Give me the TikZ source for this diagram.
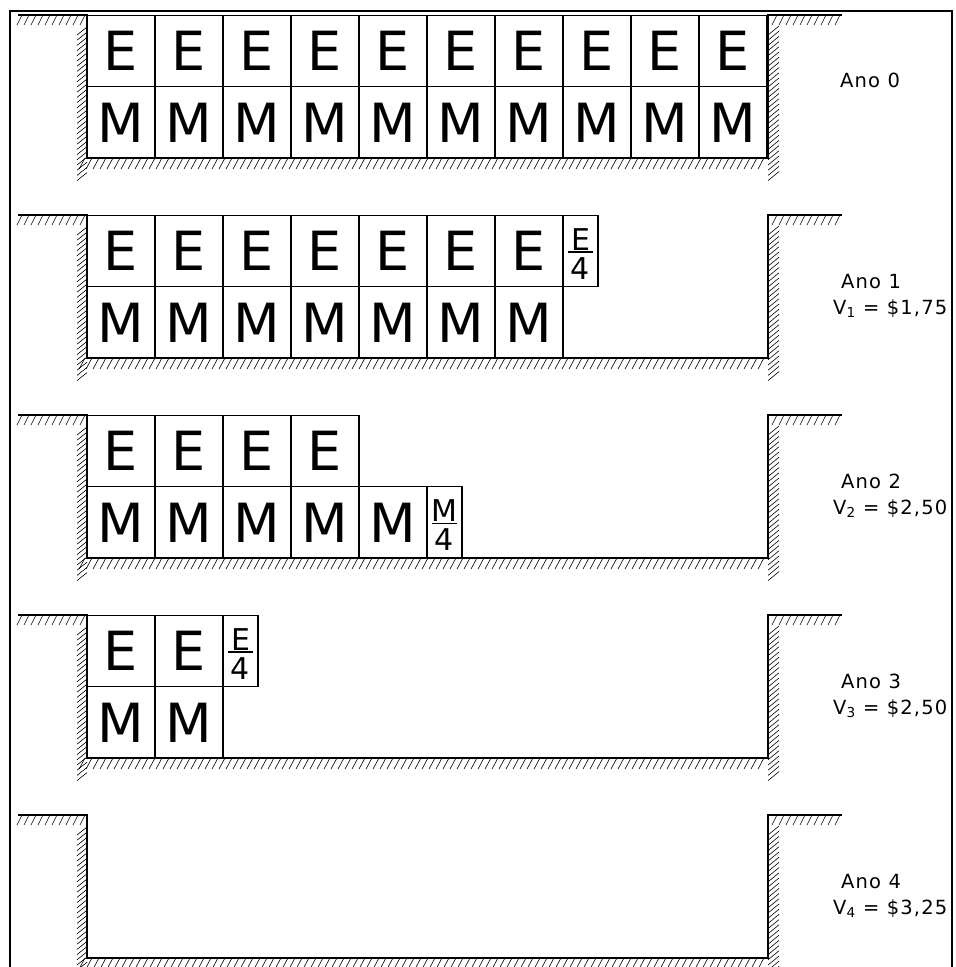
\documentclass[tikz,border=0pt]{standalone}
\usepackage{fontspec}
\setmainfont{DejaVu Sans}
\newfontfamily\labelfont[LetterSpace=6]{DejaVu Sans}

% One trench: ground line, walls, floor and the hatching of the soil around it.
% #1 = height of the ground line
\newcommand\trench[1]{%
  \draw[ground] (18,#1) -- (87,#1) -- (87,{#1+143}) -- (768,{#1+143}) -- (768,#1) -- (842,#1);
  % soil under the left ground
  \foreach \x in {22,29,...,87} \draw[hatch] (\x,#1) -- ++(-5,10);
  % soil left of the left wall
  \foreach \t in {0,...,28} \draw[hatch] (87,{#1+12+5.2*\t}) -- ++(-10,8);
  % soil under the floor
  \foreach \x in {85,92,...,768} \draw[hatch] (\x,{#1+143}) -- ++(-6,11);
  % soil right of the right wall
  \foreach \t in {0,...,28} \draw[hatch] (768,{#1+20+5.2*\t}) -- ++(11,-9);
  % soil under the right ground
  \foreach \x in {777,784,...,842} \draw[hatch] (\x,#1) -- ++(-5,10);
}

\begin{document}
\begin{tikzpicture}[x=1pt,y=-1pt,
  ground/.style={line width=1.6pt},
  hatch/.style={line width=0.6pt},
  cell/.style={draw, line width=1.2pt, minimum width=68pt, minimum height=71.5pt,
    inner sep=0pt, font=\fontsize{54}{54}\selectfont},
  halfcell/.style={draw, line width=1.2pt, minimum width=35pt, minimum height=71.5pt, inner sep=0pt},
  fracpart/.style={inner sep=0pt, font=\fontsize{30}{30}\selectfont},
  fracbar/.style={line width=1.2pt},
  yearlabel/.style={anchor=base west, inner sep=0pt, font=\labelfont\fontsize{19.5}{19.5}\selectfont},
  frame/.style={line width=2.4pt}]

\useasboundingbox (0,0) rectangle (956,967);
\clip (0,0) rectangle (956,967);

% trenches, 200 apart
\foreach \k in {0,...,4} { \trench{15+200*\k} }

% ---- year 0: ten E over ten M
\foreach \i in {1,...,10} {
  \node[cell] (a0e\i) at ({53+68*\i},51) {E};
  \node[cell] (a0m\i) at ({53+68*\i},122.5) {M};
}

% ---- year 1: seven E plus a quarter, seven M
\foreach \i in {1,...,7} {
  \node[cell] (a1e\i) at ({53+68*\i},251) {E};
  \node[cell] (a1m\i) at ({53+68*\i},322.5) {M};
}
\node[halfcell] (a1q) at (580.5,251) {};
\node[fracpart] (a1qn) at (580.5,239.5) {E};
\node[fracpart] (a1qd) at (580.5,268.5) {4};
\coordinate (a1ql) at (568,252);
\coordinate (a1qr) at (593,252);
\draw[fracbar] (a1ql) -- (a1qr);

% ---- year 2: four E, five M plus a quarter
\foreach \i in {1,...,4} {
  \node[cell] (a2e\i) at ({53+68*\i},451) {E};
}
\foreach \i in {1,...,5} {
  \node[cell] (a2m\i) at ({53+68*\i},522.5) {M};
}
\node[halfcell] (a2q) at (444.5,522.5) {};
\node[fracpart] (a2qn) at (444.5,510.5) {M};
\node[fracpart] (a2qd) at (444.5,540) {4};
\coordinate (a2ql) at (432,523.5);
\coordinate (a2qr) at (457,523.5);
\draw[fracbar] (a2ql) -- (a2qr);

% ---- year 3: two E plus a quarter, two M
\foreach \i in {1,2} {
  \node[cell] (a3e\i) at ({53+68*\i},651) {E};
  \node[cell] (a3m\i) at ({53+68*\i},722.5) {M};
}
\node[halfcell] (a3q) at (240.5,651) {};
\node[fracpart] (a3qn) at (240.5,639.5) {E};
\node[fracpart] (a3qd) at (240.5,668.5) {4};
\coordinate (a3ql) at (228,652);
\coordinate (a3qr) at (253,652);
\draw[fracbar] (a3ql) -- (a3qr);

% ---- year labels and values
\begin{scope}
  \clip (0,0) rectangle (951,967);
  \node[yearlabel] (y0) at (840,87) {Ano 0};
  \node[yearlabel] (y1) at (841,288) {Ano 1};
  \node[yearlabel] (v1) at (833,314) {V\textsubscript{1} = \$1,75};
  \node[yearlabel] (y2) at (841,488) {Ano 2};
  \node[yearlabel] (v2) at (833,514) {V\textsubscript{2} = \$2,50};
  \node[yearlabel] (y3) at (841,688) {Ano 3};
  \node[yearlabel] (v3) at (833,714) {V\textsubscript{3} = \$2,50};
  \node[yearlabel] (y4) at (841,888) {Ano 4};
  \node[yearlabel] (v4) at (833,914) {V\textsubscript{4} = \$3,25};
\end{scope}

% outer frame
\draw[frame] (10,990) -- (10,11) -- (952,11) -- (952,990);

\end{tikzpicture}
\end{document}
